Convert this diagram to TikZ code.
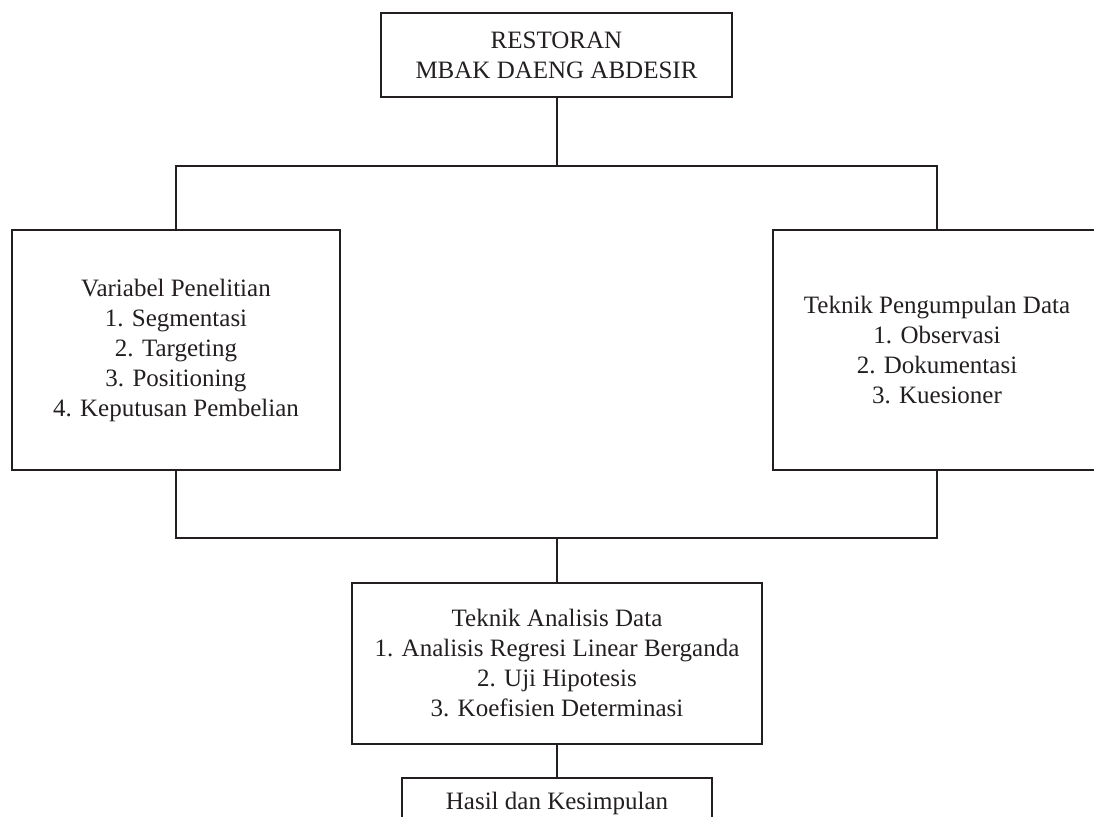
\documentclass[tikz,border=0pt]{standalone}
\usepackage{fontspec}
\setmainfont{Liberation Serif}
\usetikzlibrary{positioning}

\definecolor{ink}{RGB}{35,31,32}
\tikzset{
  box/.style={draw=ink, text=ink, line width=1pt, align=center, inner sep=0pt,
    font=\fontsize{12.5}{15}\selectfont},
  link/.style={draw=ink, line width=1pt},
}

\begin{document}
\begin{tikzpicture}[x=0.5pt, y=-0.5pt]
  \useasboundingbox (0,0) rectangle (1094,817);

  \node [box, minimum width=175.5pt, minimum height=42pt] (resto) at (556.5,55)
    {RESTORAN\\MBAK DAENG ABDESIR};

  \coordinate [below=34pt of resto] (fork);    % helper

  \node [box, minimum width=164pt, minimum height=120pt] (variabel) at (176,350)
    {Variabel Penelitian\\1. Segmentasi\\2. Targeting\\3. Positioning\\4. Keputusan Pembelian};
  \node [box, minimum width=164pt, minimum height=120pt] (pengumpulan) at (937,350)
    {Teknik Pengumpulan Data\\1. Observasi\\2. Dokumentasi\\3. Kuesioner};

  \coordinate (join) at (557,538);    % helper

  \node [box, below=22pt of join, minimum width=205pt, minimum height=80.5pt] (analisis)
    {Teknik Analisis Data\\1. Analisis Regresi Linear Berganda\\2. Uji Hipotesis\\3. Koefisien Determinasi};
  \node [box, below=16pt of analisis, minimum width=155pt, minimum height=25pt] (hasil)
    {Hasil dan Kesimpulan};

  \draw [link] (resto) -- (fork);
  \draw [link] (variabel.north) |- (fork) -| (pengumpulan.north);
  \draw [link] (variabel.south) |- (join) -| (pengumpulan.south);
  \draw [link] (join) -- (analisis);
  \draw [link] (analisis) -- (hasil);
\end{tikzpicture}
\end{document}
